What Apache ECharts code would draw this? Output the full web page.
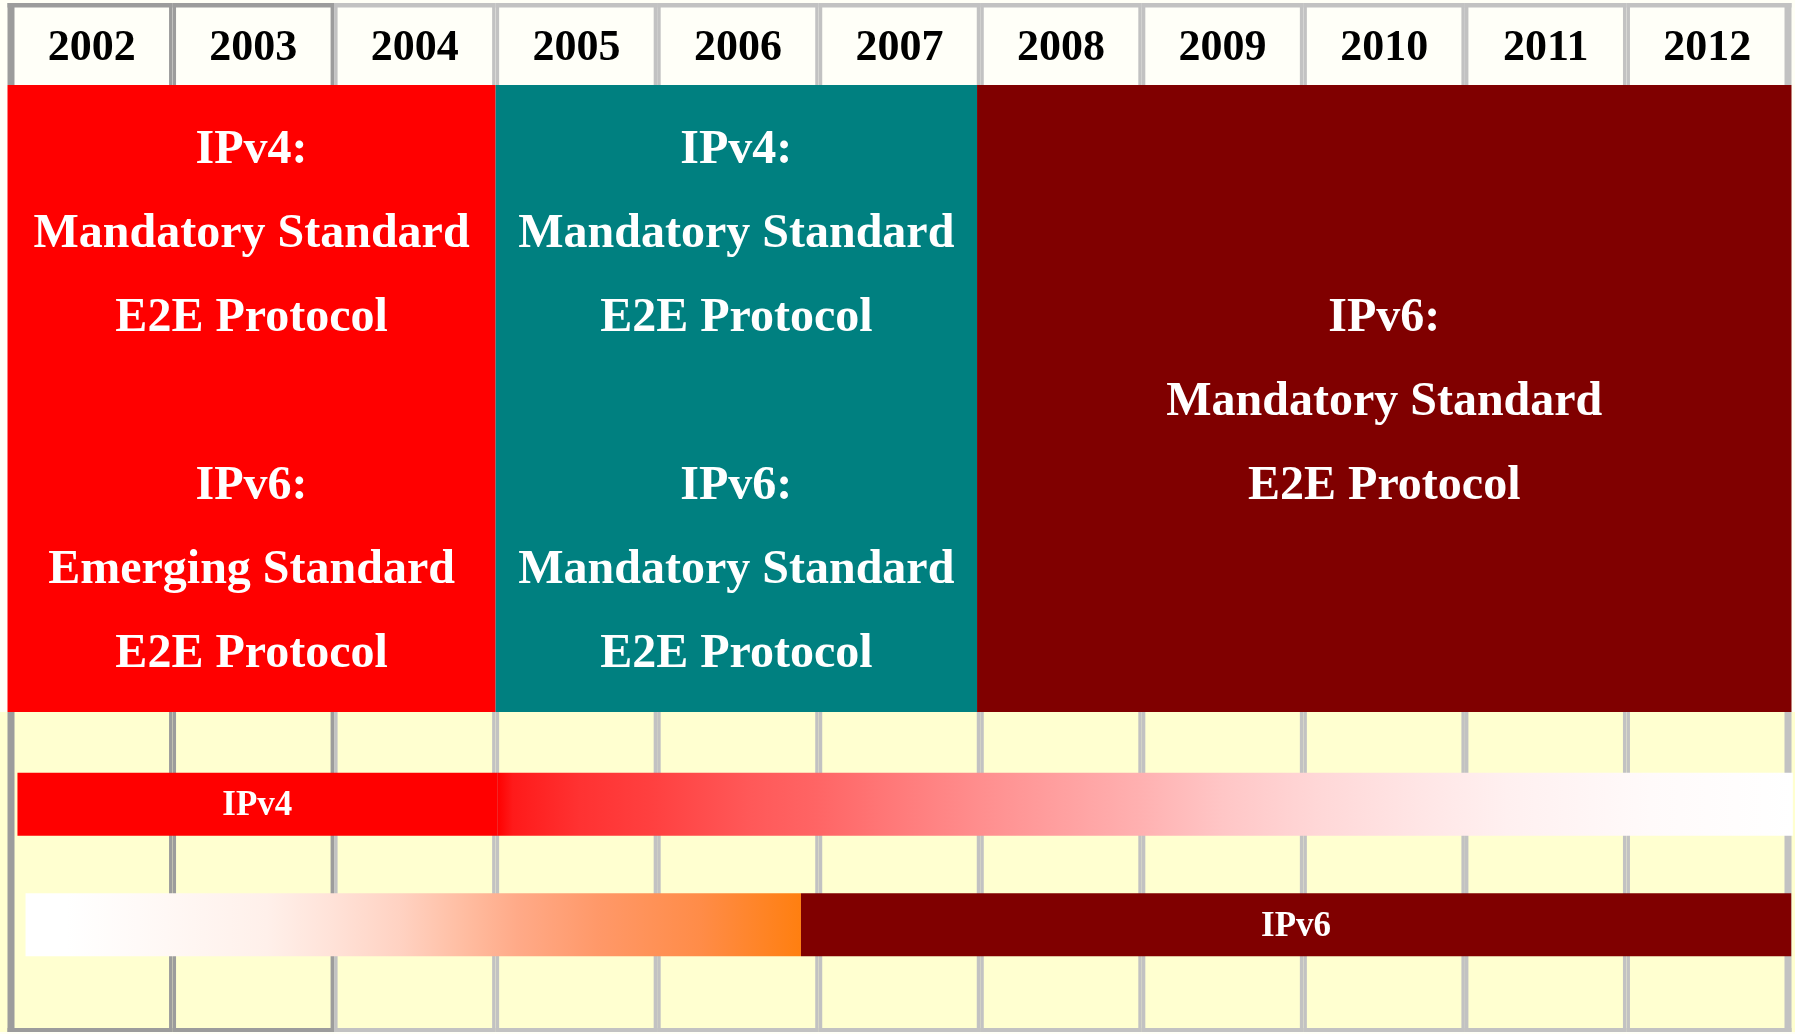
<!DOCTYPE html>
<html><head><meta charset="utf-8">
<script src="https://cdn.jsdelivr.net/npm/echarts@6/dist/echarts.min.js"></script>
<style>html,body{margin:0;padding:0;background:#fffff6;} #c{width:1795px;height:1034px;}</style>
</head><body><div id="c"></div><script>
// ---------- data ----------
const years = ['2002','2003','2004','2005','2006','2007','2008','2009','2010','2011','2012'];
const darkBorderYears = ['2002','2003'];

const phaseStart = [2002, 2005, 2007.98];
const phaseEnd   = [2005, 2007.98, 2013];
const phaseText = [
  ['IPv4:', 'Mandatory Standard', 'E2E Protocol', '', 'IPv6:', 'Emerging Standard', 'E2E Protocol'],
  ['IPv4:', 'Mandatory Standard', 'E2E Protocol', '', 'IPv6:', 'Mandatory Standard', 'E2E Protocol'],
  ['IPv6:', 'Mandatory Standard', 'E2E Protocol']
];

const barNames      = ['IPv4', 'IPv6'];
const barSolidStart = [2002.04, 2006.89];
const barSolidEnd   = [2005.01, 2013.02];
const barFadeStart  = [2005.01, 2002.09];
const barFadeEnd    = [2013.03, 2006.89];

// ---------- styles ----------
const phaseColors = ['#ff0000', '#008080', '#800000'];
const barSolidColors = ['#ff0000', '#800000'];
const fadeStops = [
  [[0,'#ff0000'],[0.012,'#ff1a1a'],[0.064,'#ff3232'],[0.12,'#ff4040'],[0.193,'#ff5858'],[0.244,'#ff6464'],
   [0.321,'#ff7e7e'],[0.386,'#ff9292'],[0.494,'#ffb0b0'],[0.56,'#ffc6c6'],[0.637,'#ffd8d8'],[0.715,'#ffe6e6'],
   [0.779,'#fff0f0'],[0.89,'#fffafa'],[1,'#ffffff']],
  [[0,'#ffffff'],[0.053,'#ffffff'],[0.182,'#fff8f5'],[0.311,'#fff0ea'],[0.396,'#ffe2d8'],[0.483,'#ffd2c2'],
   [0.569,'#ffbca0'],[0.634,'#ffaa88'],[0.741,'#ff9868'],[0.87,'#ff8c48'],[1,'#ff7f10']]
];
const SERIF = '"Liberation Serif", "Times New Roman", serif';
const HB = 3.5; // half divider width
const X0 = 2002, X1 = 2013;

const chart = echarts.init(document.getElementById('c'), null, {renderer: 'canvas'});

function cellRender(kind) {
  return function (params, api) {
    const idx = params.dataIndex;
    const xa = api.coord([api.value(0), 0])[0];
    const xb = api.coord([api.value(1), 0])[0];
    const cs = params.coordSys;
    const y0 = cs.y, y1 = cs.y + cs.height;
    const first = idx === 0, last = idx === years.length - 1;
    const bc = darkBorderYears.indexOf(years[idx]) >= 0 ? '#9c9c9c' : '#c2c2c2';
    const ch = [];
    const fx0 = kind === 'low' && first ? 0 : xa;
    const fx1 = kind === 'low' && last ? api.getWidth() : xb;
    ch.push({type: 'rect', shape: {x: fx0, y: y0, width: fx1 - fx0, height: y1 - y0},
      style: {fill: kind === 'head' ? '#fffff8' : '#ffffd0'}});
    ch.push({type: 'rect', shape: {x: xa - (first ? HB : 0), y: y0, width: first ? 2 * HB : HB, height: y1 - y0}, style: {fill: bc}});
    ch.push({type: 'rect', shape: {x: xb - HB, y: y0, width: last ? 2 * HB : HB, height: y1 - y0}, style: {fill: bc}});
    const bx = xa - (first ? HB : 0), bw = xb - xa + (first ? HB : 0) + (last ? HB : 0);
    if (kind === 'head') {
      ch.push({type: 'rect', shape: {x: bx, y: y0, width: bw, height: 4.5}, style: {fill: bc}});
      ch.push({type: 'text', style: {text: years[idx], x: (xa + xb) / 2, y: (y0 + y1) / 2 + 4.5,
        align: 'center', verticalAlign: 'middle', font: 'bold 44px ' + SERIF, fill: '#000'}});
    } else {
      ch.push({type: 'rect', shape: {x: bx, y: y1 - 4, width: bw, height: 4}, style: {fill: bc}});
    }
    return {type: 'group', children: ch};
  };
}

const cellData = years.map(y => [+y, +y + 1]);

const option = {
  backgroundColor: '#fffff6',
  animation: false,
  grid: [
    {left: 11, right: 7, top: 3, height: 82},
    {left: 11, right: 7, top: 85, height: 627},
    {left: 11, right: 7, top: 712, height: 320},
    {left: 11, right: 7, top: 744, height: 241}
  ],
  xAxis: [0, 1, 2, 3].map(i => ({type: 'value', gridIndex: i, min: X0, max: X1, show: false})),
  yAxis: [
    {type: 'value', gridIndex: 0, min: 0, max: 1, show: false},
    {type: 'value', gridIndex: 1, min: 0, max: 1, show: false},
    {type: 'value', gridIndex: 2, min: 0, max: 1, show: false},
    {type: 'category', gridIndex: 3, data: barNames, inverse: true, show: false}
  ],
  series: [
    {type: 'custom', xAxisIndex: 0, yAxisIndex: 0, data: cellData, renderItem: cellRender('head'), z: 1},
    {type: 'custom', xAxisIndex: 2, yAxisIndex: 2, data: cellData, renderItem: cellRender('low'), z: 1},
    {
      type: 'custom', xAxisIndex: 1, yAxisIndex: 1, z: 2,
      data: phaseStart.map((s, i) => [s, phaseEnd[i]]),
      renderItem: function (params, api) {
        const i = params.dataIndex;
        const s = api.value(0), e = api.value(1);
        let xa = api.coord([s, 0])[0], xb = api.coord([e, 0])[0];
        if (s === X0) xa -= HB;
        if (e === X1) xb += HB;
        const cs = params.coordSys;
        return {type: 'group', children: [
          {type: 'rect', shape: {x: xa, y: cs.y, width: xb - xa, height: cs.height}, style: {fill: phaseColors[i]}},
          {type: 'text', style: {text: phaseText[i].join('\n'), x: (xa + xb) / 2, y: cs.y + cs.height / 2 + 4,
            align: 'center', verticalAlign: 'middle', lineHeight: 84, font: 'bold 48px ' + SERIF, fill: '#ffffff'}}
        ]};
      }
    },
    {
      type: 'custom', xAxisIndex: 3, yAxisIndex: 3, z: 3,
      data: barNames.map((n, i) => [i, barSolidStart[i], barSolidEnd[i], barFadeStart[i], barFadeEnd[i]]),
      renderItem: function (params, api) {
        const i = params.dataIndex;
        const yc = api.coord([X0, api.value(0)])[1];
        const h = 63;
        const sa = api.coord([api.value(1), 0])[0], sb = api.coord([api.value(2), 0])[0];
        const fa = api.coord([api.value(3), 0])[0], fb = api.coord([api.value(4), 0])[0];
        return {type: 'group', children: [
          {type: 'rect', shape: {x: fa, y: yc - h / 2, width: fb - fa, height: h},
            style: {fill: new echarts.graphic.LinearGradient(0, 0, 1, 0,
              fadeStops[i].map(s => ({offset: s[0], color: s[1]})))}},
          {type: 'rect', shape: {x: sa, y: yc - h / 2, width: sb - sa, height: h}, style: {fill: barSolidColors[i]}},
          {type: 'text', style: {text: barNames[i], x: (sa + sb) / 2, y: yc + 2, align: 'center', verticalAlign: 'middle',
            font: 'bold 35px ' + SERIF, fill: '#ffffff'}}
        ]};
      }
    }
  ]
};
chart.setOption(option);
</script></body></html>
